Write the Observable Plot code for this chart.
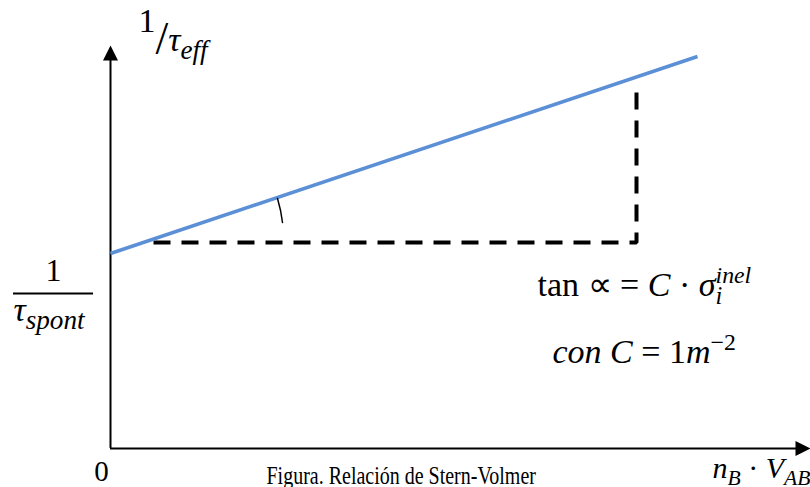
<!DOCTYPE html>
<html><head><meta charset="utf-8">
<script src="https://cdn.jsdelivr.net/npm/d3@7"></script>
<script src="https://cdn.jsdelivr.net/npm/@observablehq/plot@0.6"></script>
<style>body{margin:0;background:#fff}</style>
</head><body>
<script>
// ---- Data (arbitrary units: x = n_B·V_AB, y = 1/τ_eff) ----
const lineX = [0, 587];          // Stern-Volmer line, x ends
const lineY = [195, 392];        // intercept = 1/τ_spont, end value
const dashX = [43, 526, 526];    // slope triangle (dashed)
const dashY = [206, 206, 361];
const axisXEnd = [700];
const axisYEnd = [403];
// ---- Labels (rich text parts: [text, kind]) ----
const labelYTop = [["1","up"],["/","slash"],["τ","i"],["eff","sub"]];
const labelYNum = [["1",""]];
const labelYDen = [["τ","i"],["spont","sub"]];
const labelTan  = [["tan ",""],["∝",""],[" = ",""],["C","i"],[" · ",""],["σ","i"],["i","sub"],["inel","supback"]];
const labelCon  = [["con","i"],[" ",""],["C","i"],[" = ",""],["1",""],["m","i"],["−2","sup"]];
const labelZero = [["0",""]];
const labelX    = [["n","i"],["B","sub"],[" · ",""],["V","i"],["AB","sub"]];
const caption   = "Figura. Relación de Stern-Volmer";

const plain = p => p.map(d => d[0]).join("");
const arrowHead = {draw(ctx) { ctx.moveTo(0, 0); ctx.lineTo(7.5, 15); ctx.lineTo(-7.5, 15); ctx.closePath(); }};
const txt = (parts, x, y, size, anchor = "start") =>
  Plot.text([plain(parts)], {x, y, text: d => d, fontSize: size, textAnchor: anchor, lineAnchor: "bottom", fill: "black"});

const chart = Plot.plot({
  width: 810, height: 487,
  margin: 0, marginTop: 0, marginRight: 0, marginBottom: 0, marginLeft: 0,
  x: {domain: [-110, 700], range: [0, 810], axis: null},
  y: {domain: [-39, 448], range: [487, 0], axis: null},
  style: {fontFamily: "'Liberation Serif', serif", background: "white", overflow: "visible"},
  marks: [
    // axes
    Plot.ruleY([0], {x1: 0, x2: 690, stroke: "black", strokeWidth: 2}),
    Plot.ruleX([0], {y1: 0, y2: 395, stroke: "black", strokeWidth: 2}),
    Plot.dot(axisXEnd, {x: d => d, y: 0, symbol: arrowHead, fill: "black", stroke: null, rotate: 90}),
    Plot.dot(axisYEnd, {x: 0, y: d => d, symbol: arrowHead, fill: "black", stroke: null}),
    // dashed slope triangle
    Plot.line(dashX.map((x, i) => ({x, y: dashY[i]})), {x: "x", y: "y", stroke: "black", strokeWidth: 4, strokeDasharray: "17,11", strokeLinejoin: "miter", strokeLinecap: "butt"}),
    // Stern-Volmer line
    Plot.line(lineX.map((x, i) => ({x, y: lineY[i]})), {x: "x", y: "y", stroke: "#5B8FD6", strokeWidth: 3.5, strokeLinecap: "butt"}),
    // angle arc
    Plot.arrow([0], {x1: 167, y1: 250, x2: 172, y2: 226, bend: 5, headLength: 0, stroke: "black", strokeWidth: 1.5}),
    // fraction bar for 1/τ_spont
    Plot.ruleY([155], {x1: -97, x2: -17, stroke: "black", strokeWidth: 2}),
    // texts
    txt(labelYTop, 28, 398, 34),
    txt(labelYNum, -57, 168, 32, "middle"),
    txt(labelYDen, -97, 128, 34),
    txt(labelTan, 427, 153, 34),
    txt(labelCon, 442, 86, 34),
    txt(labelZero, -9, -32, 29, "middle"),
    txt(labelX, 602, -29, 30),
    Plot.text([caption], {x: 156, y: -35, text: d => d, fontSize: 25, textAnchor: "start", lineAnchor: "bottom", fill: "black"})
  ]
});
document.body.append(chart);

function richify(svg, parts, F, subScale = 0.72) {
  const key = plain(parts);
  for (const t of svg.querySelectorAll("text")) {
    if (t.textContent !== key || t.dataset.rich) continue;
    t.dataset.rich = "1";
    t.textContent = "";
    let cur = 0, prev = null;
    for (const [s, k] of parts) {
      const ts = document.createElementNS("http://www.w3.org/2000/svg", "tspan");
      ts.textContent = s;
      let off = 0, size = F, italic = false;
      if (k === "i") italic = true;
      else if (k === "sub") { off = 0.24 * F; size = subScale * F; italic = true; }
      else if (k === "sup") { off = -0.38 * F; size = 0.7 * F; }
      else if (k === "supback") { off = -0.38 * F; size = 0.7 * F; italic = true; }
      else if (k === "up") { off = -0.55 * F; }
      else if (k === "slash") { off = 0.1 * F; size = 1.35 * F; }
      ts.setAttribute("font-size", size);
      if (italic) ts.setAttribute("font-style", "italic");
      if (off - cur) ts.setAttribute("dy", off - cur);
      if (k === "supback" && prev) ts.setAttribute("dx", -prev.getComputedTextLength());
      cur = off;
      t.appendChild(ts);
      prev = ts;
    }
  }
}
richify(chart, labelYTop, 34, 0.8);
richify(chart, labelYDen, 34, 0.8);
richify(chart, labelTan, 34);
richify(chart, labelCon, 34);
richify(chart, labelX, 30);
// caption is set in a condensed Times-like face in the reference
for (const t of chart.querySelectorAll("text")) {
  if (t.textContent === caption) {
    const tr = t.getAttribute("transform") || "";
    t.setAttribute("transform", tr + " scale(0.8,1)");
  }
}
</script>
</body></html>
